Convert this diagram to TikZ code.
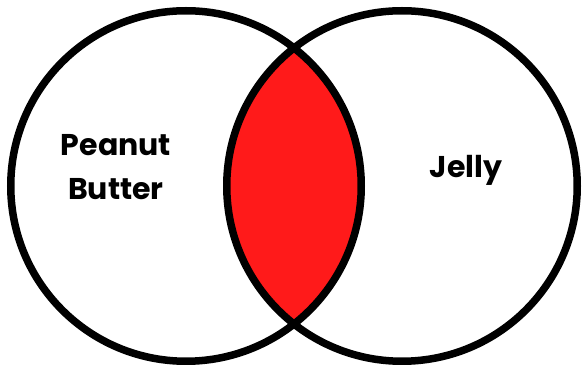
\documentclass[tikz,border=0pt]{standalone}
\usepackage{fontspec}
\setmainfont{Poppins}[BoldFont={* Bold}]
\usepackage{tikz}
\usetikzlibrary{positioning}
\definecolor{vennred}{RGB}{255,26,26}

\begin{document}
\begin{tikzpicture}[x=1pt,y=-1pt,font=\bfseries\fontsize{30}{44}\selectfont,
    every node/.style={align=center},
    setring/.style={draw=black,line width=7.5pt,circle,minimum size=350.5pt,inner sep=0pt}]
    \useasboundingbox (0,0) rectangle (582,366);
    % overlap of the two sets
    \begin{scope}
      \clip (186,186) circle (175.25);
      \fill[vennred] (402,186) circle (175.25);
    \end{scope}
    \node[setring] (pb) at (186,186) {};
    \node[setring] (jelly) at (402,186) {};
    \node[anchor=base] (pblabel) at (116,200) {Peanut\\Butter};
    \node[anchor=base] (jellylabel) at (466,178) {Jelly};
  \end{tikzpicture}
\end{document}
